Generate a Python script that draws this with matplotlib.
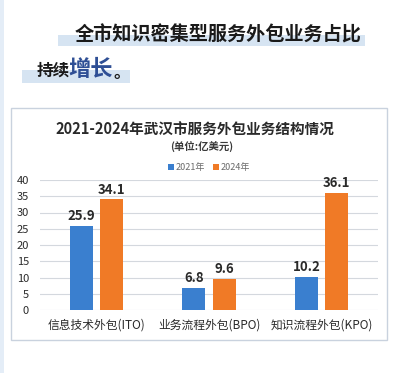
import matplotlib.pyplot as plt
from matplotlib.patches import Rectangle
import numpy as np

plt.rcParams['font.family'] = ['Noto Sans CJK SC', 'DejaVu Sans']

categories = ['信息技术外包(ITO)', '业务流程外包(BPO)', '知识流程外包(KPO)']
years = ['2021年', '2024年']
v2021 = [25.9, 6.8, 10.2]
v2024 = [34.1, 9.6, 36.1]
yticks = [0, 5, 10, 15, 20, 25, 30, 35, 40]

c2021 = '#3a7fcf'
c2024 = '#f07a26'

fig = plt.figure(figsize=(4.0, 3.73), dpi=100)
fig.patch.set_facecolor('white')

W, H = 400, 373
def fx(px):
    return px / W
def fy(py):
    return 1 - py / H

# light strip on the left edge
fig.patches.append(Rectangle((0, 0), fx(4), 1, transform=fig.transFigure,
                             facecolor='#e4edf7', edgecolor='none', zorder=0))

# headline highlight bands
fig.patches.append(Rectangle((fx(58), fy(46)), fx(307), 11 / H, transform=fig.transFigure,
                             facecolor='#d6e4f2', edgecolor='none', zorder=0))
fig.patches.append(Rectangle((fx(22), fy(83)), fx(108), 13 / H, transform=fig.transFigure,
                             facecolor='#d6e4f2', edgecolor='none', zorder=0))

fig.text(fx(75), fy(35), '全市知识密集型服务外包业务占比', fontsize=13.8,
         fontweight='bold', color='#1a1a1a', ha='left', va='center')
fig.text(fx(37), fy(71), '持续', fontsize=12, fontweight='bold',
         color='#1a1a1a', ha='left', va='center')
fig.text(fx(68), fy(69), '增长', fontsize=16, fontweight='bold',
         color='#2f4f95', ha='left', va='center')
fig.text(fx(113), fy(73), '。', fontsize=12, fontweight='bold',
         color='#1a1a1a', ha='left', va='center')

# chart frame
fig.patches.append(Rectangle((fx(11), fy(340)), fx(376), 232 / H, transform=fig.transFigure,
                             facecolor='white', edgecolor='#c9d2de', linewidth=1, zorder=0))

fig.text(fx(195), fy(130), '2021-2024年武汉市服务外包业务结构情况', fontsize=10.5,
         fontweight='semibold', color='#2a2a2a', ha='center', va='center')
fig.text(fx(202), fy(146), '(单位:亿美元)', fontsize=7.5, fontweight='bold',
         color='#3a3a3a', ha='center', va='center')

ax = fig.add_axes([fx(40), fy(310), fx(338), 130 / H])
ax.set_zorder(2)
ax.patch.set_alpha(0)
x = np.arange(len(categories))
bw = 0.205
b1 = ax.bar(x - 0.135, v2021, bw, color=c2021, label=years[0], zorder=3)
b2 = ax.bar(x + 0.135, v2024, bw, color=c2024, label=years[1], zorder=3)

for bars, vals in ((b1, v2021), (b2, v2024)):
    for b, v in zip(bars, vals):
        ax.text(b.get_x() + b.get_width() / 2, v + 0.8, f'{v}', ha='center', va='bottom',
                fontsize=9.5, fontweight='bold', color='#2a2a2a')

ax.set_xlim(-0.5, 2.5)
ax.set_ylim(0, 40)
ax.set_yticks(yticks)
ax.set_xticks(x)
ax.set_xticklabels(categories, fontsize=8.5, color='#2a2a2a')
ax.tick_params(axis='y', labelsize=8, labelcolor='#2a2a2a', length=0, pad=8)
ax.tick_params(axis='x', length=0, pad=6)
ax.grid(axis='y', color='#d4d8de', linewidth=0.8, zorder=0)
for s in ax.spines.values():
    s.set_visible(False)

ax.legend(loc='lower center', bbox_to_anchor=(0.5, 1.03), ncol=2, frameon=False,
          fontsize=6.5, handlelength=0.7, handleheight=0.7, handletextpad=0.2,
          columnspacing=0.8, labelcolor='#6a6a6a', borderaxespad=0)

fig.savefig('out.png', dpi=100)
